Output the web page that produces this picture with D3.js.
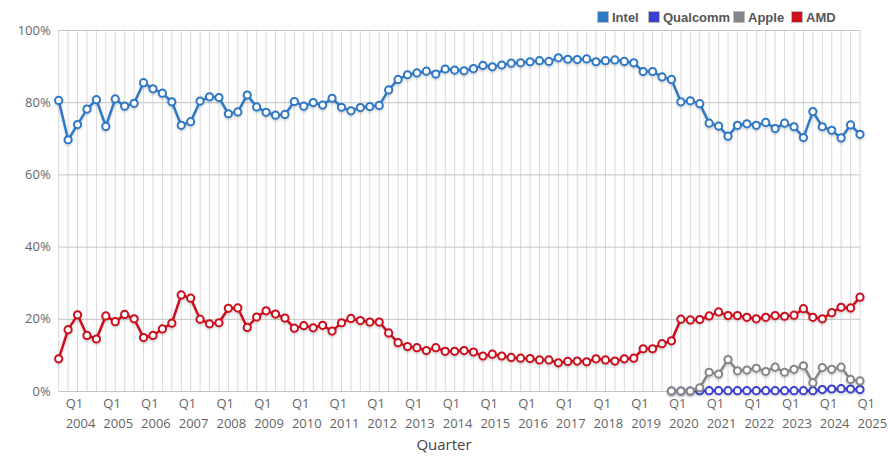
<!DOCTYPE html>
<html>
<head>
<meta charset="utf-8">
<script src="https://cdn.jsdelivr.net/npm/d3@7"></script>
<style>
  body { margin: 0; background: #fff; }
  text { font-family: "Open Sans", sans-serif; }
</style>
</head>
<body>
<svg id="chart" width="888" height="462"></svg>
<script>
// quarters shown on the x axis
var quarters = [
  "2003 Q4",
  "2004 Q1","2004 Q2","2004 Q3","2004 Q4","2005 Q1","2005 Q2","2005 Q3","2005 Q4",
  "2006 Q1","2006 Q2","2006 Q3","2006 Q4","2007 Q1","2007 Q2","2007 Q3","2007 Q4",
  "2008 Q1","2008 Q2","2008 Q3","2008 Q4","2009 Q1","2009 Q2","2009 Q3","2009 Q4",
  "2010 Q1","2010 Q2","2010 Q3","2010 Q4","2011 Q1","2011 Q2","2011 Q3","2011 Q4",
  "2012 Q1","2012 Q2","2012 Q3","2012 Q4","2013 Q1","2013 Q2","2013 Q3","2013 Q4",
  "2014 Q1","2014 Q2","2014 Q3","2014 Q4","2015 Q1","2015 Q2","2015 Q3","2015 Q4",
  "2016 Q1","2016 Q2","2016 Q3","2016 Q4","2017 Q1","2017 Q2","2017 Q3","2017 Q4",
  "2018 Q1","2018 Q2","2018 Q3","2018 Q4","2019 Q1","2019 Q2","2019 Q3","2019 Q4",
  "2020 Q1","2020 Q2","2020 Q3","2020 Q4","2021 Q1","2021 Q2","2021 Q3","2021 Q4",
  "2022 Q1","2022 Q2","2022 Q3","2022 Q4","2023 Q1","2023 Q2","2023 Q3","2023 Q4",
  "2024 Q1","2024 Q2","2024 Q3","2024 Q4","2025 Q1"
];

var intel = [
  80.5,
  69.6,73.8,78.1,80.7, 73.3,80.9,78.9,79.7, 85.4,83.7,82.5,80.1, 73.6,74.6,80.3,81.5,
  81.3,76.8,77.3,82.0, 78.7,77.2,76.4,76.6, 80.2,78.9,79.9,79.2, 81.1,78.6,77.6,78.5,
  78.8,79.1,83.4,86.3, 87.6,88.1,88.6,87.8, 89.2,88.9,88.7,89.3, 90.2,89.8,90.3,90.8,
  90.9,91.2,91.5,91.3, 92.3,91.9,91.8,92.0, 91.2,91.5,91.7,91.3, 90.9,88.5,88.5,87.0,
  86.3,80.1,80.4,79.6, 74.2,73.4,70.6,73.6, 74.0,73.6,74.4,72.7, 74.2,73.2,70.2,77.4,
  73.2,72.2,70.1,73.7, 71.1
];

var amd = [
  8.9,
  17.0,21.1,15.4,14.4, 20.8,19.2,21.2,20.0, 14.8,15.4,17.2,18.8, 26.6,25.7,19.9,18.6,
  18.9,22.9,23.0,17.6, 20.5,22.2,21.3,20.2, 17.4,18.1,17.5,18.2, 16.6,18.9,20.1,19.5,
  19.1,19.1,16.1,13.4, 12.3,12.0,11.2,12.0, 11.0,11.0,11.2,10.8, 9.7,10.2,9.7,9.3,
  9.1,9.0,8.6,8.6, 7.8,8.2,8.3,8.1, 8.9,8.6,8.3,8.9, 9.1,11.7,11.7,13.1,
  13.9,19.9,19.7,19.8, 20.8,21.9,20.9,20.9, 20.4,20.0,20.4,20.9, 20.7,21.0,22.8,20.4,
  20.0,21.7,23.2,23.0, 26.0
];

// Apple and Qualcomm only start in 2020 Q1
var lateStart = "2020 Q1";
var apple = [
  0.0,0.0,0.0,0.9, 5.2,4.7,8.7,5.6, 5.8,6.3,5.4,6.6, 5.2,6.0,7.0,2.3,
  6.5,6.0,6.6,3.2, 2.8
];
var qualcomm = [
  0.0,0.0,0.0,0.1, 0.1,0.1,0.1,0.1, 0.1,0.1,0.1,0.1, 0.1,0.1,0.1,0.1,
  0.4,0.55,0.65,0.55, 0.4
];

var seriesNames = ["Intel", "Qualcomm", "Apple", "AMD"];
var seriesColors = ["#2f78c6", "#3a3fd0", "#86868a", "#cc101c"];
var yTicks = [0, 20, 40, 60, 80, 100];

var start = quarters.indexOf(lateStart);
function toPoints(values, offset) {
  return values.map(function(v, i) { return { q: quarters[i + offset], v: v }; });
}
var series = [
  toPoints(intel, 0),
  toPoints(qualcomm, start),
  toPoints(apple, start),
  toPoints(amd, 0)
];

var svg = d3.select("#chart");
var plotLeft = 58.7, plotRight = 860, plotTop = 30, plotBottom = 391;

var x = d3.scalePoint().domain(quarters).range([plotLeft, plotRight]);
var y = d3.scaleLinear().domain([0, 100]).range([plotBottom, plotTop]);

var defs = svg.append("defs");
var shadow = defs.append("filter").attr("id", "shadow")
    .attr("x", "-10%").attr("y", "-10%").attr("width", "120%").attr("height", "130%");
shadow.append("feDropShadow")
    .attr("dx", 0).attr("dy", 1.5).attr("stdDeviation", 1)
    .attr("flood-color", "#000").attr("flood-opacity", 0.18);

// vertical grid, one per quarter
svg.append("g").selectAll("line")
    .data(quarters)
  .enter().append("line")
    .attr("x1", function(d) { return x(d); })
    .attr("x2", function(d) { return x(d); })
    .attr("y1", plotTop)
    .attr("y2", plotBottom)
    .attr("stroke", "#d9d9d9")
    .attr("stroke-width", 1);

// horizontal grid + y labels
var yAxis = svg.append("g")
    .attr("transform", "translate(" + plotLeft + ",0)")
    .call(d3.axisLeft(y).tickValues(yTicks).tickSize(-(plotRight - plotLeft)).tickPadding(8)
      .tickFormat(function(d) { return d + "%"; }));
yAxis.select(".domain").remove();
yAxis.selectAll(".tick line").attr("stroke", "#c4c4c4");
yAxis.selectAll(".tick text")
    .attr("fill", "#666")
    .style("font-size", "13px")
    .style("font-family", "Open Sans, sans-serif");

// x labels: only Q1 of each year
var q1s = quarters.filter(function(q) { return q.slice(5) == "Q1"; });
var xl = svg.append("g").selectAll("g")
    .data(q1s)
  .enter().append("g")
    .attr("transform", function(d) { return "translate(" + (x(d) - 2.5) + ",0)"; });
xl.append("text")
    .attr("y", 408)
    .attr("fill", "#666")
    .style("font-size", "13px")
    .text(function(d) { return d.slice(5); });
xl.append("text")
    .attr("y", 428)
    .attr("fill", "#666")
    .style("font-size", "13px")
    .text(function(d) { return d.slice(0, 4); });

svg.append("text")
    .attr("x", 444)
    .attr("y", 450)
    .attr("text-anchor", "middle")
    .attr("fill", "#444")
    .style("font-size", "15px")
    .text("Quarter");

// lines and points
var line = d3.line()
    .x(function(d) { return x(d.q); })
    .y(function(d) { return y(d.v); });

series.forEach(function(s, k) {
  var g = svg.append("g").attr("filter", "url(#shadow)");
  g.append("path")
      .datum(s)
      .attr("fill", "none")
      .attr("stroke", seriesColors[k])
      .attr("stroke-width", 2.5)
      .attr("stroke-linejoin", "round")
      .attr("d", line);
  g.selectAll("circle")
      .data(s)
    .enter().append("circle")
      .attr("cx", function(d) { return x(d.q); })
      .attr("cy", function(d) { return y(d.v); })
      .attr("r", 3.6)
      .attr("fill", "#fff")
      .attr("stroke", seriesColors[k])
      .attr("stroke-width", 2);
});

// legend
var legendX = [597, 648, 733, 791];
var legend = svg.append("g").selectAll("g")
    .data(seriesNames)
  .enter().append("g")
    .attr("transform", function(d, i) { return "translate(" + legendX[i] + ",11)"; });
legend.append("rect")
    .attr("x", 0.5).attr("y", 0.5)
    .attr("width", 11).attr("height", 11)
    .attr("fill", function(d, i) { return seriesColors[i]; })
    .attr("stroke", "#bbb")
    .attr("stroke-width", 1);
legend.append("text")
    .attr("x", 15)
    .attr("y", 10.5)
    .attr("fill", "#555")
    .style("font-size", "13px")
    .style("font-weight", "bold")
    .style("font-family", "Liberation Sans, Arial, sans-serif")
    .text(function(d) { return d; });
</script>
</body>
</html>
